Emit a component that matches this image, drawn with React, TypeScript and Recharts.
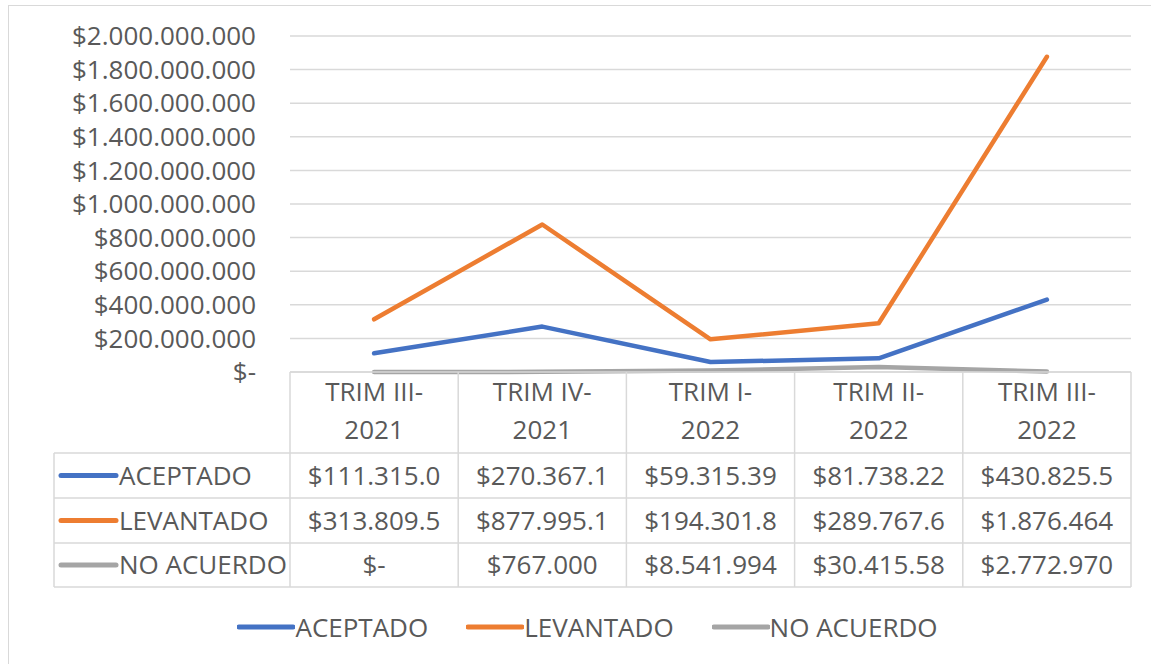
import React from 'react';
import { LineChart, Line, XAxis, YAxis, CartesianGrid } from 'recharts';

// periodos (se parten en dos líneas en la cabecera de la tabla)
const periods = ['TRIM III-2021', 'TRIM IV-2021', 'TRIM I-2022', 'TRIM II-2022', 'TRIM III-2022'];

// valores en pesos
const aceptado = [111315000, 270367100, 59315390, 81738220, 430825500];
const levantado = [313809500, 877995100, 194301800, 289767600, 1876464000];
const noAcuerdo = [0, 767000, 8541994, 30415580, 2772970];

// texto tal como lo corta la tabla de datos de Excel
const aceptadoText = ['$111.315.0', '$270.367.1', '$59.315.39', '$81.738.22', '$430.825.5'];
const levantadoText = ['$313.809.5', '$877.995.1', '$194.301.8', '$289.767.6', '$1.876.464'];
const noAcuerdoText = ['$-', '$767.000', '$8.541.994', '$30.415.58', '$2.772.970'];

const yTicks = [0, 200000000, 400000000, 600000000, 800000000, 1000000000, 1200000000, 1400000000, 1600000000, 1800000000, 2000000000];

const series = [
  { key: 'aceptado', name: 'ACEPTADO', color: '#4472C4', text: aceptadoText },
  { key: 'levantado', name: 'LEVANTADO', color: '#ED7D31', text: levantadoText },
  { key: 'noAcuerdo', name: 'NO ACUERDO', color: '#A5A5A5', text: noAcuerdoText },
];

const data = periods.map((p, i) => ({
  period: p,
  aceptado: aceptado[i],
  levantado: levantado[i],
  noAcuerdo: noAcuerdo[i],
}));

const W = 1151;
const H = 664;
const PLOT_LEFT = 290;
const PLOT_RIGHT = 1131;
const PLOT_TOP = 36;
const PLOT_BOTTOM = 372;
const COL_W = (PLOT_RIGHT - PLOT_LEFT) / periods.length;
const TABLE_LEFT = 54;
const ROW_LINES = [453, 498, 543, 587];
const FONT = '"Open Sans", "Noto Sans", sans-serif';
const FS = 26;
const TEXT = '#595959';
const GRID = '#d9d9d9';

const money = (v: number) => (v === 0 ? '$-' : '$' + v.toLocaleString('de-DE'));

function PeriodTick({ x, y, payload }: any) {
  const label: string = payload.value;
  const cut = label.lastIndexOf('-');
  return (
    <text x={x} textAnchor="middle" fill={TEXT} fontSize={FS} fontFamily={FONT}>
      <tspan x={x} y={y + 29}>{label.slice(0, cut + 1)}</tspan>
      <tspan x={x} y={y + 67}>{label.slice(cut + 1)}</tspan>
    </text>
  );
}

function DataTable() {
  return (
    <svg width={W} height={H} style={{ position: 'absolute', left: 0, top: 0, pointerEvents: 'none' }}>
      {/* columnas */}
      {periods.map((_, i) => (
        <line key={'v' + i} x1={PLOT_LEFT + i * COL_W} x2={PLOT_LEFT + i * COL_W} y1={PLOT_BOTTOM} y2={ROW_LINES[3]} stroke={GRID} strokeWidth={1.5} />
      ))}
      <line x1={PLOT_RIGHT} x2={PLOT_RIGHT} y1={PLOT_BOTTOM} y2={ROW_LINES[3]} stroke={GRID} strokeWidth={1.5} />
      <line x1={TABLE_LEFT} x2={TABLE_LEFT} y1={ROW_LINES[0]} y2={ROW_LINES[3]} stroke={GRID} strokeWidth={1.5} />
      {/* filas */}
      {ROW_LINES.map((y) => (
        <line key={'h' + y} x1={TABLE_LEFT} x2={PLOT_RIGHT} y1={y} y2={y} stroke={GRID} strokeWidth={1.5} />
      ))}
      {series.map((s, r) => {
        const cy = (ROW_LINES[r] + ROW_LINES[r + 1]) / 2;
        return (
          <g key={s.key}>
            <line x1={61} x2={116} y1={cy} y2={cy} stroke={s.color} strokeWidth={5} strokeLinecap="round" />
            <text x={119} y={cy + 9} fill={TEXT} fontSize={FS} fontFamily={FONT}>{s.name}</text>
            {s.text.map((t, i) => (
              <text key={i} x={PLOT_LEFT + (i + 0.5) * COL_W} y={cy + 9} textAnchor="middle" fill={TEXT} fontSize={FS} fontFamily={FONT}>
                {t}
              </text>
            ))}
          </g>
        );
      })}
    </svg>
  );
}

function LegendRow() {
  return (
    <div
      style={{
        position: 'absolute',
        left: 0,
        top: 609,
        width: W,
        display: 'flex',
        justifyContent: 'center',
        gap: 38,
        paddingLeft: 24,
        boxSizing: 'border-box',
      }}
    >
      {series.map((s) => (
        <div key={s.key} style={{ display: 'flex', alignItems: 'center', color: TEXT, fontSize: FS, fontFamily: FONT, lineHeight: '36px' }}>
          <svg width={58} height={10}>
            <line x1={2} x2={56} y1={5} y2={5} stroke={s.color} strokeWidth={5} strokeLinecap="round" />
          </svg>
          <span>{s.name}</span>
        </div>
      ))}
    </div>
  );
}

export default function App() {
  return (
    <div style={{ position: 'absolute', left: 0, top: 0, width: W, height: H, background: '#fff', overflow: 'hidden' }}>
      <div style={{ position: 'absolute', left: 8, top: 5, width: W, height: H, border: `1.5px solid ${GRID}` }} />
      <LineChart
        width={W}
        height={H}
        data={data}
        margin={{ top: PLOT_TOP, right: W - PLOT_RIGHT, left: 0, bottom: H - PLOT_BOTTOM - 1 }}
        style={{ position: 'absolute', left: 0, top: 0 }}
      >
        <CartesianGrid vertical={false} stroke={GRID} strokeWidth={1.5} />
        <XAxis
          dataKey="period"
          height={1}
          axisLine={{ stroke: GRID, strokeWidth: 1.5 }}
          tickLine={false}
          tickSize={0}
          tickMargin={0}
          interval={0}
          padding={{ left: COL_W / 2, right: COL_W / 2 }}
          tick={<PeriodTick />}
        />
        <YAxis
          width={PLOT_LEFT}
          domain={[0, 2000000000]}
          ticks={yTicks}
          interval={0}
          axisLine={false}
          tickLine={false}
          tickSize={0}
          tickMargin={34}
          tickFormatter={money}
          tick={{ fill: TEXT, fontSize: FS, fontFamily: FONT }}
        />
        {series.map((s) => (
          <Line
            key={s.key}
            type="linear"
            dataKey={s.key}
            name={s.name}
            stroke={s.color}
            strokeWidth={4.5}
            strokeLinecap="round"
            strokeLinejoin="round"
            dot={false}
            activeDot={false}
            isAnimationActive={false}
          />
        ))}
      </LineChart>
      <DataTable />
      <LegendRow />
    </div>
  );
}
